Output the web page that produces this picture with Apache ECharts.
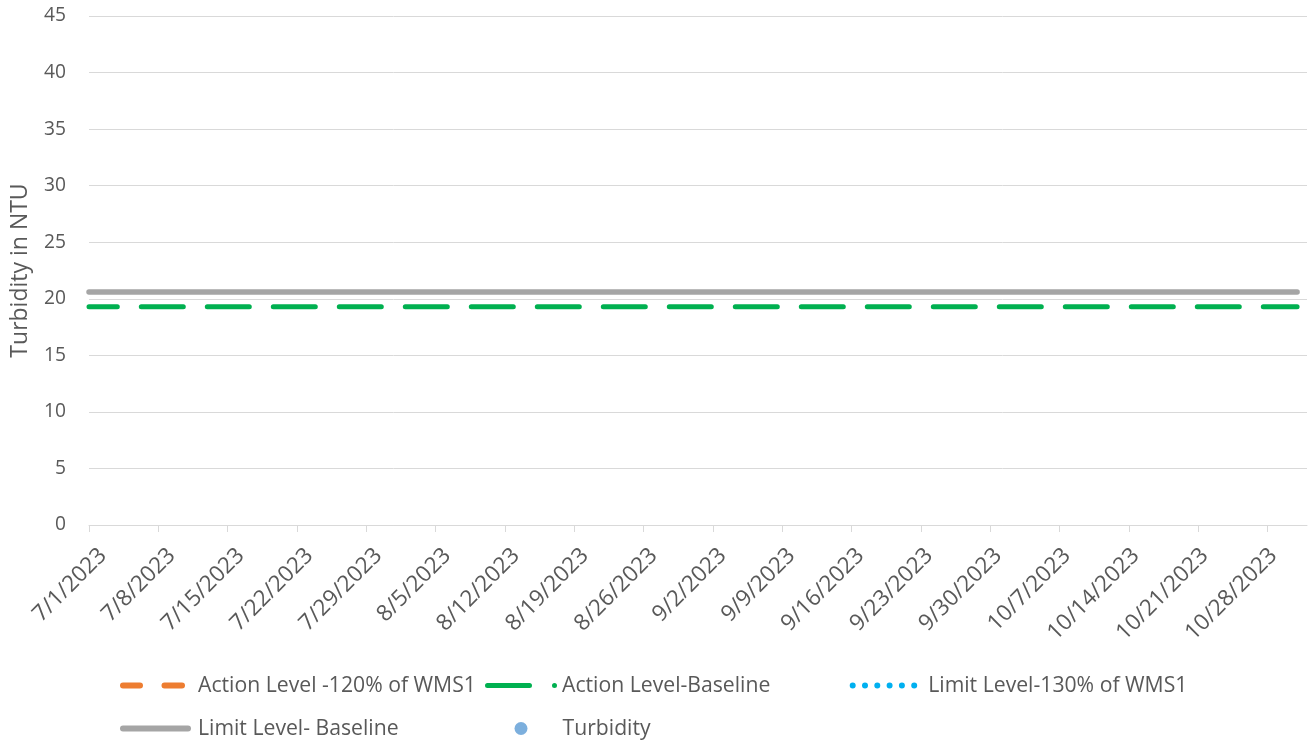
<!DOCTYPE html>
<html><head><meta charset="utf-8">
<script src="https://cdn.jsdelivr.net/npm/echarts@6/dist/echarts.min.js"></script>
<style>html,body{margin:0;padding:0;background:#fff}#c{width:1313px;height:743px}</style>
</head><body><div id="c"></div>
<script>
// ---- data ----
const axisStart = '7/1/2023';
const axisEnd = '11/1/2023';
const tickDates = ['7/1/2023','7/8/2023','7/15/2023','7/22/2023','7/29/2023','8/5/2023','8/12/2023','8/19/2023','8/26/2023','9/2/2023','9/9/2023','9/16/2023','9/23/2023','9/30/2023','10/7/2023','10/14/2023','10/21/2023','10/28/2023'];
const yTicks = [0,5,10,15,20,25,30,35,40,45];
const lineDates = ['7/1/2023','10/31/2023'];
const actionLevel120 = [];           // no visible values
const actionBaseline = [19.3, 19.3];
const limitLevel130 = [];            // no visible values
const limitBaseline = [20.6, 20.6];
const turbidity = [];                // no visible values
const seriesNames = ['Action Level -120% of WMS1','Action Level-Baseline','Limit Level-130% of WMS1','Limit Level- Baseline','Turbidity'];

// ---- helpers ----
function dayIndex(s){const p=s.split('/').map(Number);const a=axisStart.split('/').map(Number);
  return Math.round((Date.UTC(p[2],p[0]-1,p[1])-Date.UTC(a[2],a[0]-1,a[1]))/86400000);}
function dayLabel(v){const a=axisStart.split('/').map(Number);const d=new Date(Date.UTC(a[2],a[0]-1,a[1])+v*86400000);
  return (d.getUTCMonth()+1)+'/'+d.getUTCDate()+'/'+d.getUTCFullYear();}
function pairs(dates,vals){return vals.map((v,i)=>[dayIndex(dates[i]),v]);}
function rr(x,w,h){const r=h/2;return `M${x+r},0 L${x+w-r},0 A${r},${r} 0 0 1 ${x+w-r},${h} L${x+r},${h} A${r},${r} 0 0 1 ${x+r},0 Z `;}
function circ(cx,cy,r){return `M${cx-r},${cy} A${r},${r} 0 1 1 ${cx+r},${cy} A${r},${r} 0 1 1 ${cx-r},${cy} Z `;}

const FONT = 'Open Sans';
const FS_TICK = 19.2;
const FS_XLAB = 22.5;
const FS_LEG = 21.2;
const FS_TITLE = 23;
const TXT = '#595959';
const tickVals = tickDates.map(dayIndex);

const icons = {
  orange: 'path://' + rr(0,23,6) + rr(41.5,23.5,6),
  green: 'path://' + rr(0,47,5) + circ(69.5,2.5,2.5),
  blue: 'path://' + [0,1,2,3,4,5].map(i=>circ(3+i*12.3,3,3)).join(''),
  gray: 'path://' + rr(0,71,6),
  dot: 'path://' + circ(6.5,6.5,6.5)
};
function lg(name,left,top,icon,w,h,color,pad){
  return {show:true,left:left,top:top,padding:0,itemGap:0,itemWidth:w,itemHeight:h,selectedMode:false,
    data:[{name:name,icon:icon,itemStyle:{color:color,borderWidth:0}}],
    itemStyle:{borderWidth:0},
    textStyle:{color:TXT,fontSize:FS_LEG,fontFamily:FONT,padding:[0,0,0,pad]}};
}

const xMin = dayIndex(axisStart), xMax = dayIndex(axisEnd);
const chart = echarts.init(document.getElementById('c'),null,{renderer:'canvas'});
chart.setOption({
  animation:false,
  textStyle:{fontFamily:FONT},
  grid:[
    {left:89,top:16,width:1218,height:509,containLabel:false},
    {left:103,top:16,width:1218,height:509,containLabel:false}
  ],
  xAxis:[
    {type:'value',gridIndex:0,min:xMin,max:xMax,interval:7,
      axisLine:{show:true,lineStyle:{color:'#D9D9D9',width:1}},
      axisTick:{show:true,length:7,lineStyle:{color:'#D9D9D9'},customValues:tickVals},
      axisLabel:{show:false},
      splitLine:{show:false}},
    {type:'value',gridIndex:1,min:xMin,max:xMax,interval:7,
      axisLine:{show:false},axisTick:{show:false},splitLine:{show:false},
      axisLabel:{rotate:45,color:TXT,fontSize:FS_XLAB,fontFamily:FONT,margin:27,customValues:tickVals,formatter:v=>dayLabel(v)}}
  ],
  yAxis:[
    {type:'value',gridIndex:0,min:yTicks[0],max:yTicks[yTicks.length-1],interval:5,
      name:'Turbidity in NTU',nameLocation:'middle',nameGap:57,
      nameTextStyle:{color:TXT,fontSize:FS_TITLE,fontFamily:FONT},
      axisLine:{show:false},axisTick:{show:false},
      axisLabel:{color:TXT,fontSize:FS_TICK,fontFamily:FONT,margin:23},
      splitLine:{lineStyle:{color:'#D9D9D9',width:1}}},
    {type:'value',gridIndex:1,min:yTicks[0],max:yTicks[yTicks.length-1],interval:5,show:false}
  ],
  legend:[
    lg(seriesNames[0],120,675,icons.orange,65,6,'#ED7D31',8),
    lg(seriesNames[1],485,675,icons.green,72,5,'#00B050',0),
    lg(seriesNames[2],849.7,675,icons.blue,67.6,6,'#00B0F0',6),
    lg(seriesNames[3],120,718,icons.gray,71,6,'#A5A5A5',2),
    lg(seriesNames[4],514.5,718,icons.dot,13,13,'#5B9BD5',30)
  ],
  series:[
    {name:seriesNames[0],type:'line',data:pairs(lineDates,actionLevel120),showSymbol:false,color:'#ED7D31',
      lineStyle:{color:'#ED7D31',width:5,type:'dashed',cap:'round'}},
    {name:seriesNames[1],type:'line',data:pairs(lineDates,actionBaseline),showSymbol:false,color:'#00B050',
      lineStyle:{color:'#00B050',width:5,type:[42,24],dashOffset:13.7,cap:'round'}},
    {name:seriesNames[2],type:'line',data:pairs(lineDates,limitLevel130),showSymbol:false,color:'#00B0F0',
      lineStyle:{color:'#00B0F0',width:5,type:'dotted',cap:'round'}},
    {name:seriesNames[3],type:'line',data:pairs(lineDates,limitBaseline),showSymbol:false,color:'#A5A5A5',
      lineStyle:{color:'#A5A5A5',width:5.5,cap:'round'}},
    {name:seriesNames[4],type:'scatter',data:pairs(lineDates,turbidity),color:'#5B9BD5',symbolSize:13}
  ]
});
</script></body></html>
